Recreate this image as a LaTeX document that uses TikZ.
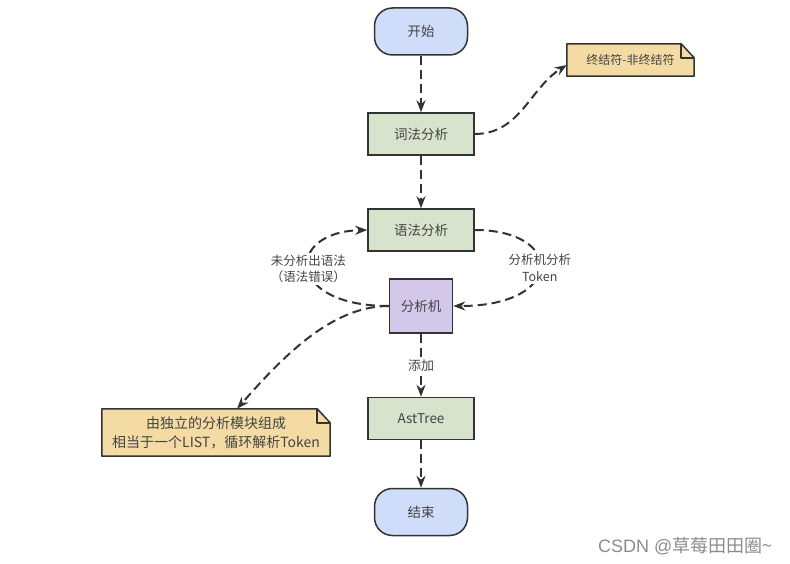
\documentclass[tikz,border=0pt]{standalone}
\usepackage{fontspec}
\usepackage{xcolor}
\newfontfamily\cjk{Noto Sans CJK SC}
\newfontfamily\marksans{Liberation Sans}
\usetikzlibrary{arrows.meta,backgrounds}
\definecolor{endblue}{HTML}{CFDDFB}
\definecolor{stepgreen}{HTML}{D8E3CD}
\definecolor{machpurple}{HTML}{D4C8EA}
\definecolor{noteyellow}{HTML}{F3DBA3}
\definecolor{inkgray}{HTML}{333333}
\definecolor{txtgray}{HTML}{444444}
\definecolor{markgray}{HTML}{8C8C8C}

\begin{document}
\begin{tikzpicture}[x=1pt,y=-1pt,
font=\cjk,text=txtgray,
terminal/.style={draw=inkgray,line width=1.5pt,fill=endblue,rounded corners=18pt,
minimum width=93pt,minimum height=47pt,inner sep=0pt,font=\cjk\fontsize{13.5}{16}\selectfont},
stepbox/.style={draw=inkgray,line width=1.5pt,fill=stepgreen,
minimum width=106pt,minimum height=42pt,inner sep=0pt,font=\cjk\fontsize{13.5}{16}\selectfont},
machbox/.style={draw=inkgray,line width=1.5pt,fill=machpurple,
minimum width=63pt,minimum height=54pt,inner sep=0pt,font=\cjk\fontsize{13.5}{16}\selectfont},
notebox/.style={inner sep=0pt,align=center},
flow/.style={draw=inkgray,line width=2pt,dash pattern=on 9pt off 5pt,
-{Stealth[length=12pt,width=9pt]}},
lbl/.style={fill=white,inner sep=2pt,align=center,font=\cjk\fontsize{12.5}{16.5}\selectfont}
]
\useasboundingbox (0,0) rectangle (790,564);

\node[terminal] (start) at (421,31.5) {开始};
\node[stepbox] (lex) at (421,134) {词法分析};
\node[stepbox] (syn) at (421,230) {语法分析};
\node[machbox] (mach) at (421,306) {分析机};
\node[stepbox] (ast) at (421,418.5) {AstTree};
\node[terminal] (stop) at (421,512) {结束};

\node[notebox,minimum width=127pt,minimum height=32pt,font=\cjk\fontsize{12}{15}\selectfont]
(term) at (630.5,60) {终结符-非终结符};
\node[notebox,minimum width=228pt,minimum height=47pt,font=\cjk\fontsize{14}{19}\selectfont]
(mods) at (216,432.5) {由独立的分析模块组成\\相当于一个LIST，循环解析Token};

\begin{scope}[on background layer]
\foreach \n in {term,mods}{
\draw[inkgray,line width=1.5pt,fill=noteyellow,line join=round]
(\n.south west) -- (\n.north west) -- ([xshift=-13pt]\n.north east)
-- ([yshift=-14pt]\n.north east) -- (\n.south east) -- cycle;
\draw[inkgray,line width=1.5pt,line join=round]
([xshift=-13pt]\n.north east) -- ([xshift=-13pt,yshift=-14pt]\n.north east)
-- ([yshift=-14pt]\n.north east);
}
\end{scope}

\draw[flow] (start) -- (lex);
\draw[flow] (lex) -- (syn);
\draw[flow] (mach) -- node[lbl,font=\cjk\fontsize{13}{16}\selectfont] {添加} (ast);
\draw[flow] (ast) -- (stop);

\draw[flow] (lex.east) .. controls (520,134) and (530,88) .. ([yshift=-5pt]term.west);
\draw[flow] (syn.east) .. controls (565,230) and (565,306) .. node[lbl] {分析机分析\\Token} (mach.east);
\draw[flow] (mach.west) .. controls (285,306) and (285,232) .. node[lbl] {未分析出语法\\（语法错误）} (syn.west);
\draw[flow] (mach.west) .. controls (330,306) and (280,360) .. ([xshift=21pt]mods.north);

\node[anchor=east,text=markgray,font=\cjk\fontsize{18}{21}\selectfont] (mark) at (776,546) {{\marksans CSDN @}草莓田田圈\textasciitilde};
\end{tikzpicture}
\end{document}
